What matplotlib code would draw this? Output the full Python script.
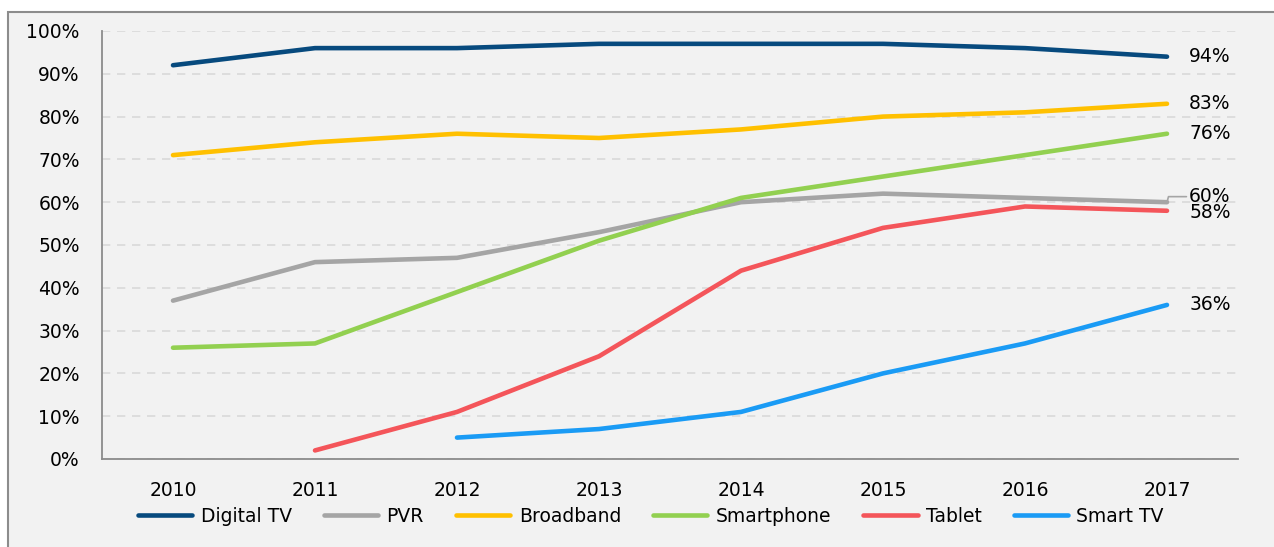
import matplotlib
matplotlib.use('Agg')
from matplotlib import pyplot as plt
from matplotlib.patches import Rectangle
import numpy as np

years = ['2010', '2011', '2012', '2013', '2014', '2015', '2016', '2017']
digital_tv = [92, 96, 96, 97, 97, 97, 96, 94]
pvr = [37, 46, 47, 53, 60, 62, 61, 60]
broadband = [71, 74, 76, 75, 77, 80, 81, 83]
smartphone = [26, 27, 39, 51, 61, 66, 71, 76]
tablet = [np.nan, 2, 11, 24, 44, 54, 59, 58]
smart_tv = [np.nan, np.nan, 5, 7, 11, 20, 27, 36]

series = [
    ('Digital TV', digital_tv, '#074a7e'),
    ('PVR', pvr, '#a5a5a5'),
    ('Broadband', broadband, '#ffc000'),
    ('Smartphone', smartphone, '#92d050'),
    ('Tablet', tablet, '#f4555a'),
    ('Smart TV', smart_tv, '#1a9bf5'),
]

plt.rcParams['font.family'] = ['DejaVu Sans']
fig = plt.figure(figsize=(12.74, 5.47), dpi=100, facecolor='white')

# grey outer frame like the exported chart area
fig.patches.append(Rectangle((8 / 1274, -0.01), 1.0, (547 - 12) / 547 + 0.01,
                             transform=fig.transFigure, facecolor='#f2f2f2',
                             edgecolor='#8c8c8c', linewidth=1.5, zorder=-10))

ax = fig.add_axes([102 / 1274, (547 - 459) / 547, (1238 - 102) / 1274, (459 - 31) / 547])
ax.set_facecolor('none')

x = np.arange(len(years))
for name, vals, col in series:
    ax.plot(x, vals, color=col, linewidth=3.3, solid_capstyle='round', label=name)

ax.set_xlim(-0.5, len(years) - 0.5)
ax.set_ylim(0, 100)
ax.set_yticks(np.arange(0, 101, 10))
ax.set_yticklabels(['%d%%' % v for v in range(0, 101, 10)])
ax.set_xticks(x)
ax.set_xticklabels(years)
ax.tick_params(length=0, labelsize=13.5, colors='black')
ax.tick_params(axis='y', pad=16)
ax.tick_params(axis='x', pad=16)
ax.yaxis.grid(True, color='#d9d9d9', linestyle=(0, (5, 4)), linewidth=1.2)
ax.set_axisbelow(True)
for s in ['top', 'right']:
    ax.spines[s].set_visible(False)
for s in ['left', 'bottom']:
    ax.spines[s].set_color('#8c8c8c')
    ax.spines[s].set_linewidth(1.3)

# end labels
last = len(years) - 1
for name, vals, col in series:
    v = vals[last]
    if name == 'PVR':
        ax.annotate('%d%%' % v, xy=(last, v), xytext=(16, 4), textcoords='offset points',
                    va='center', ha='left', fontsize=13.5,
                    arrowprops=dict(arrowstyle='-', color='#a5a5a5', lw=1.2,
                                    shrinkA=0, shrinkB=0,
                                    connectionstyle='angle,angleA=0,angleB=75'))
    elif name == 'Tablet':
        ax.annotate('%d%%' % v, xy=(last, v), xytext=(16, -1), textcoords='offset points',
                    va='center', ha='left', fontsize=13.5)
    else:
        ax.annotate('%d%%' % v, xy=(last, v), xytext=(16, 0), textcoords='offset points',
                    va='center', ha='left', fontsize=13.5)

fig.legend(loc='center', bbox_to_anchor=(651 / 1274, (547 - 516) / 547), ncol=6,
           frameon=False, fontsize=13.5, handlelength=2.9, handletextpad=0.45,
           columnspacing=1.7)

fig.savefig('out.png', dpi=100, facecolor=fig.get_facecolor())
